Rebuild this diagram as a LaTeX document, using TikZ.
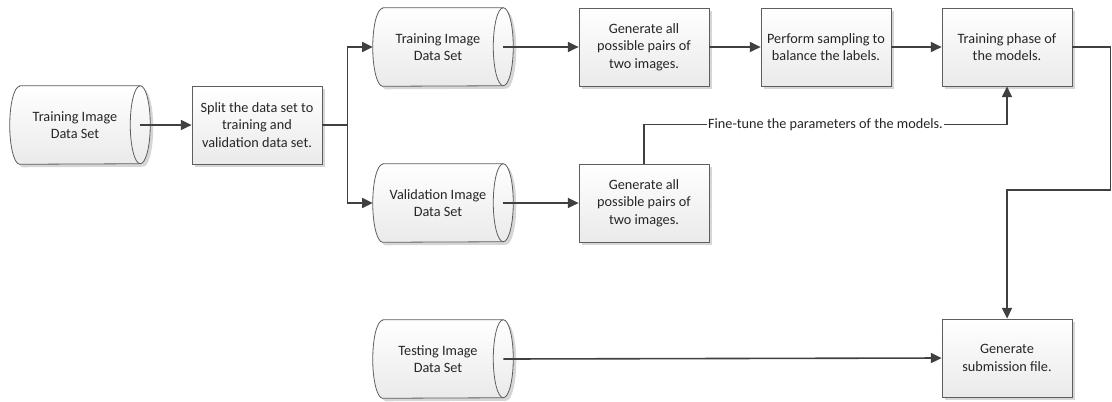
\documentclass[tikz,border=0pt]{standalone}
\usepackage{fontspec}
\setmainfont{Carlito}
\usetikzlibrary{arrows.meta,backgrounds,shadows}

\definecolor{linecol}{HTML}{404040}
\definecolor{bordercol}{HTML}{5E5E5E}
\definecolor{fillbot}{HTML}{EAEAEA}
\definecolor{shadowcol}{HTML}{D6D6D6}
\definecolor{textcol}{HTML}{262626}

\begin{document}
\begin{tikzpicture}[x=0.75pt,y=0.75pt]
		\newcommand{\rx}{7.5pt}    % half width of the end ellipse
		\newcommand{\ry}{29.25pt}  % half height of a data set
		\newcommand{\dsh}{3}       % shadow offset

		% set the styles of the boxes and data sets
		\tikzset{
			base/.style={
				minimum width=97.5pt,
				minimum height=58.5pt,
				inner sep=2pt,
				align=center,
				text=textcol,
				font=\fontsize{10.7}{13.1}\selectfont
				},
			stepbox/.style={
				base,
				draw=bordercol,
				line width=0.6pt,
				top color=white,
				bottom color=fillbot,
				drop shadow={shadow xshift=2.5pt,shadow yshift=-2.5pt,fill=shadowcol,opacity=1}
				},
			store/.style={base},
			arr/.style={
				draw=linecol,
				line width=1.2pt,
				-{Triangle[length=8pt,width=7.5pt]}
				}
		}

		% outline of a data set, drawn behind its node
		\newcommand{\storepath}[3]{%
			([shift={(10+#2,#3)}]#1.north west) -- ([shift={(#2,#3)}]#1.north east)
			arc[start angle=90,end angle=-90,x radius=\rx,y radius=\ry]
			-- ([shift={(10+#2,#3)}]#1.south west)
			arc[start angle=270,end angle=90,x radius=\rx,y radius=\ry] -- cycle}
		\newcommand{\storeshape}[1]{%
			\begin{pgfonlayer}{background}
				\fill[shadowcol] \storepath{#1}{\dsh}{-\dsh};
				\shade[top color=white,bottom color=fillbot,draw=bordercol,line width=0.6pt] \storepath{#1}{0}{0};
				\draw[bordercol,line width=0.6pt] (#1.north east) arc[start angle=90,end angle=270,x radius=\rx,y radius=\ry];
			\end{pgfonlayer}}

		\useasboundingbox (0,0) rectangle (1112,-401);

		% data sets
		\node[store] (tr0) at (75,-125) {Training Image\\Data Set};
		\node[store] (tr1) at (438,-47) {Training Image\\Data Set};
		\node[store] (val) at (438,-203) {Validation Image\\Data Set};
		\node[store] (test) at (438,-359) {Testing Image\\Data Set};
		\storeshape{tr0}
		\storeshape{tr1}
		\storeshape{val}
		\storeshape{test}

		% steps
		\node[stepbox] (split) at (257,-125) {Split the data set to\\training and\\validation data set.};
		\node[stepbox] (gen1) at (644,-47) {Generate all\\possible pairs of\\two images.};
		\node[stepbox] (gen2) at (644,-203) {Generate all\\possible pairs of\\two images.};
		\node[stepbox] (samp) at (826,-47) {Perform sampling to\\balance the labels.};
		\node[stepbox] (phase) at (1007,-47) {Training phase of\\the models.};
		\node[stepbox] (sub) at (1007,-358) {Generate\\submission file.};

		% connectors
		\draw[arr] (tr0.east) -- (split.west);
		\draw[arr] (split.east) -- ++(25,0) |- (tr1.west);
		\draw[arr] (split.east) -- ++(25,0) |- (val.west);
		\draw[arr] (tr1.east) -- (gen1.west);
		\draw[arr] (gen1.east) -- (samp.west);
		\draw[arr] (samp.east) -- (phase.west);
		\draw[arr] (val.east) -- (gen2.west);
		\draw[arr] (gen2.north) -- ++(0,39) -| (phase.south)
			node[pos=0.25,fill=white,inner sep=1pt,text=textcol,font=\fontsize{10.7}{13.1}\selectfont] {Fine-tune the parameters of the models.};
		\draw[arr] (phase.east) -- ++(38,0) -- ++(0,-143) -| (sub.north);
		\draw[arr] (test.east) -- (sub.west);
\end{tikzpicture}
\end{document}
